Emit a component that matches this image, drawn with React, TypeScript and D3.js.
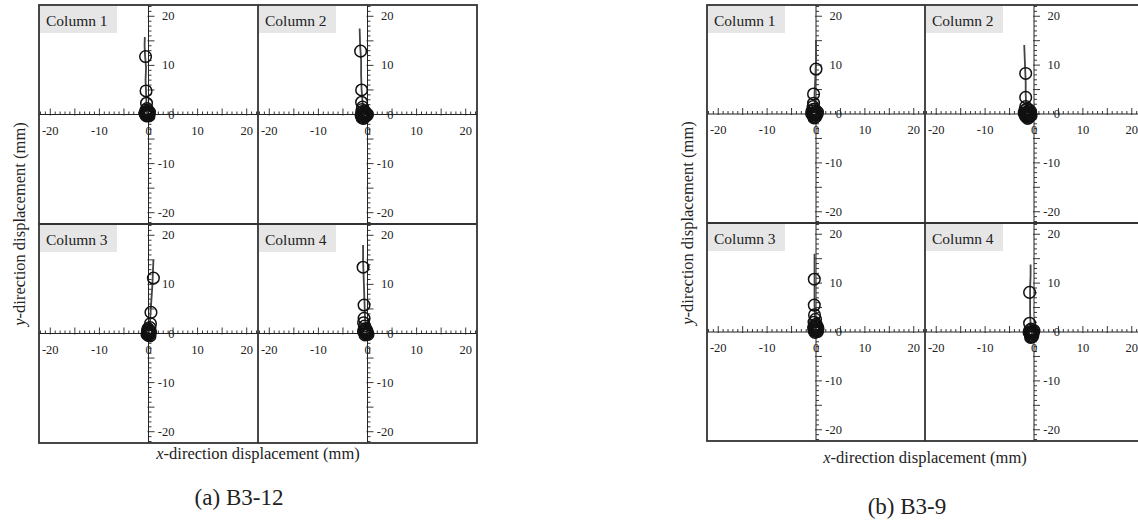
import React from 'react';
import * as d3 from 'd3';

type Pt = [number, number];

// tick values
const labelTicks = [-20, -10, 0, 10, 20];
const minorTicks = d3.range(-22, 23);

const columnNames = ['Column 1', 'Column 2', 'Column 3', 'Column 4'];

// B3-12 traces (x, y in mm)
const b312Col1Path: Pt[] = [[-0.2, -0.3], [-0.3, 0.5], [-0.4, 2], [-0.5, 4.5], [-0.6, 7], [-0.5, 9.5], [-0.7, 12], [-0.8, 14], [-0.75, 15.8]];
const b312Col1Peaks: Pt[] = [[-0.6, 11.8], [-0.5, 4.8], [-0.4, 2.3], [-0.3, 1.2], [-0.5, 0.9], [-0.2, 0.7], [-0.6, 0.5], [-0.1, 0.4], [-0.4, 0.3], [0.1, 0.2], [-0.3, 0.1], [-0.6, 0], [0, 0], [-0.2, -0.2], [-0.4, -0.3], [0.1, -0.3], [-0.7, 0.2], [0.2, 0.5], [-0.3, 0.6], [-0.1, -0.1]];

const b312Col2Path: Pt[] = [[-0.6, -0.8], [-0.8, 0.5], [-1.0, 2.5], [-1.2, 5], [-1.3, 8], [-1.3, 11], [-1.5, 14], [-1.6, 17.5]];
const b312Col2Peaks: Pt[] = [[-1.4, 12.9], [-1.2, 5.0], [-1.2, 2.5], [-1.0, 1.5], [-1.1, 1.0], [-0.8, 0.7], [-1.2, 0.4], [-0.6, 0.3], [-0.9, 0], [-0.4, 0], [-0.2, 0.1], [-1.0, -0.4], [-0.6, -0.5], [-0.8, -0.8], [0, 0], [-1.3, -0.2], [-0.5, 0.6], [-0.3, -0.3], [-1.1, -0.7]];

const b312Col3Path: Pt[] = [[0, -0.3], [0.1, 0.5], [0.3, 2], [0.4, 4], [0.6, 7], [0.8, 10], [0.9, 12.5], [1.0, 15]];
const b312Col3Peaks: Pt[] = [[1.0, 11.3], [0.5, 4.3], [0.4, 2.0], [0.3, 1.2], [0, 0.8], [0.2, 0.5], [-0.2, 0.3], [0.1, 0.1], [-0.1, -0.1], [0.2, -0.2], [0, -0.4], [-0.2, 0.6], [0.4, 0.3], [-0.3, -0.2], [0.3, -0.5], [-0.1, 1.0]];

const b312Col4Path: Pt[] = [[-0.1, 0], [-0.3, 1], [-0.5, 3], [-0.6, 6], [-0.7, 9], [-0.8, 12], [-0.9, 15], [-0.9, 18]];
const b312Col4Peaks: Pt[] = [[-0.9, 13.5], [-0.7, 5.8], [-0.7, 3.1], [-0.8, 2.2], [-0.6, 1.5], [-0.4, 1.0], [-0.7, 0.8], [-0.3, 0.5], [-0.5, 0.3], [-0.1, 0.1], [-0.4, 0], [0, 0.2], [-0.2, -0.1], [-0.8, 0.4], [0.1, -0.2], [-0.5, -0.3], [-0.2, 0.7]];

// B3-9 traces
const b39Col1Path: Pt[] = [[0, -0.5], [-0.1, 0.5], [-0.2, 2], [-0.3, 4], [-0.2, 6], [-0.1, 8.5], [0, 11], [0, 13], [0, 15]];
const b39Col1Peaks: Pt[] = [[0, 9.2], [-0.5, 4.1], [-0.5, 2.2], [-0.6, 1.5], [-0.3, 1.0], [-0.8, 0.6], [-0.2, 0.5], [-0.5, 0.2], [0.1, 0.2], [-0.7, -0.1], [-0.3, -0.2], [0.2, -0.1], [-0.5, -0.5], [-0.1, -0.6], [-0.9, 0.1], [0.3, 0.4], [-0.4, -0.8], [-0.6, 0.9]];

const b39Col2Path: Pt[] = [[-1.2, -0.5], [-1.4, 0.5], [-1.6, 2], [-1.7, 4], [-1.7, 6.5], [-1.8, 9], [-1.9, 11.5], [-2.0, 14.1]];
const b39Col2Peaks: Pt[] = [[-1.7, 8.3], [-1.7, 3.4], [-1.7, 1.5], [-1.5, 1.0], [-1.9, 0.7], [-1.2, 0.5], [-1.6, 0.3], [-1.0, 0.1], [-1.4, 0], [-0.8, -0.1], [-1.8, -0.2], [-1.2, -0.4], [-0.6, -0.3], [-1.5, -0.6], [-1.0, -0.7], [-2.0, 0.2], [-0.7, 0.4], [-1.3, -0.9], [-1.7, -0.5], [-0.9, 0.8]];

const b39Col3Path: Pt[] = [[0, -0.2], [-0.1, 1], [-0.2, 3], [-0.3, 5.5], [-0.3, 8], [-0.3, 11], [-0.3, 13.5], [-0.3, 16]];
const b39Col3Peaks: Pt[] = [[-0.35, 10.8], [-0.35, 5.5], [-0.3, 3.5], [-0.1, 2.6], [-0.4, 2.0], [0, 1.6], [-0.3, 1.2], [0.3, 1.0], [-0.2, 0.7], [0.2, 0.5], [-0.4, 0.3], [0, 0.2], [0.3, 0.1], [-0.5, 0.9], [0.4, 0.6], [-0.2, -0.1], [0.1, 1.3]];

const b39Col4Path: Pt[] = [[-0.3, -0.8], [-0.5, 0], [-0.7, 1.5], [-0.8, 4], [-0.8, 6.5], [-0.8, 9], [-0.7, 11.5], [-0.7, 13.8]];
const b39Col4Peaks: Pt[] = [[-0.9, 8.1], [-0.9, 1.8], [-0.6, 0.6], [-0.9, 0.3], [-0.3, 0.2], [-0.6, 0], [-0.2, -0.1], [-0.8, -0.3], [-0.4, -0.4], [-0.6, -0.7], [-0.3, -0.9], [-0.5, -1.0], [-1.0, -0.1], [0, 0.3], [-0.7, -1.1], [-0.2, -0.5]];

const panelsData = [
  {
    title: '(a) B3-12',
    paths: [b312Col1Path, b312Col2Path, b312Col3Path, b312Col4Path],
    peaks: [b312Col1Peaks, b312Col2Peaks, b312Col3Peaks, b312Col4Peaks],
  },
  {
    title: '(b) B3-9',
    paths: [b39Col1Path, b39Col2Path, b39Col3Path, b39Col4Path],
    peaks: [b39Col1Peaks, b39Col2Peaks, b39Col3Peaks, b39Col4Peaks],
  },
];

// layout
const TOP = 5;
const LIM = 22.3;
const layout = [
  { left: 39, cell: 219, yLabelX: 19, xLabelY: 459, titleX: 239, titleY: 505 },
  { left: 707, cell: 218, yLabelX: 687, xLabelY: 463, titleX: 907, titleY: 514 },
];

const FONT = '"Liberation Serif", "Times New Roman", Times, serif';
const INK = '#222';

function Cell({ left, top, size, name, path, peaks, id }: any) {
  const x = d3.scaleLinear().domain([-LIM, LIM]).range([left, left + size]);
  const y = d3.scaleLinear().domain([-LIM, LIM]).range([top + size, top]);
  const x0 = x(0);
  const y0 = y(0);
  const line = d3.line<Pt>().x(d => x(d[0])).y(d => y(d[1]));

  return (
    <g>
      <clipPath id={id}>
        <rect x={left} y={top} width={size} height={size} />
      </clipPath>
      <g clipPath={`url(#${id})`}>
        <rect x={left + 1} y={top + 1} width={77} height={27} fill="#e6e6e6" />
        <text x={left + 7} y={top + 21} fontFamily={FONT} fontSize={15.5} fill={INK}>{name}</text>

        {/* axes through origin */}
        <line x1={left} x2={left + size} y1={y0} y2={y0} stroke={INK} strokeWidth={1} />
        <line x1={x0} x2={x0} y1={top} y2={top + size} stroke={INK} strokeWidth={1} />
        {minorTicks.map(t => {
          const major = t % 5 === 0;
          return (
            <g key={'t' + t}>
              <line x1={x(t)} x2={x(t)} y1={y0 + (major ? 1 : 0)} y2={y0 - (major ? 6 : 3)} stroke={INK} strokeWidth={0.9} />
              <line x1={x0 - (major ? 1 : 0)} x2={x0 + (major ? 6 : 3)} y1={y(t)} y2={y(t)} stroke={INK} strokeWidth={0.9} />
            </g>
          );
        })}
        {labelTicks.map(t => (
          <text key={'xl' + t} x={x(t)} y={y0 + 20} textAnchor="middle" fontFamily={FONT} fontSize={12.5} fill={INK}>{t}</text>
        ))}
        {labelTicks.map(t => (
          <text key={'yl' + t} x={x0 + 26} y={y(t) + 4} textAnchor="end" fontFamily={FONT} fontSize={12.5} fill={INK}>{t}</text>
        ))}

        <path d={line(path) || ''} fill="none" stroke="#444" strokeWidth={1.8} />
        {peaks.map((p: Pt, i: number) => (
          <circle key={i} cx={x(p[0])} cy={y(p[1])} r={5.8} fill="none" stroke="#111" strokeWidth={1.5} />
        ))}
      </g>
    </g>
  );
}

export default function App() {
  return (
    <svg width={1138} height={520} style={{ display: 'block', position: 'absolute', left: 0, top: 0, background: '#fff' }}>
      <rect width={1138} height={520} fill="#fff" />
      {panelsData.map((pd, pi) => {
        const lay = layout[pi];
        const size = lay.cell;
        return (
          <g key={pi}>
            {[0, 1, 2, 3].map(ci => (
              <Cell
                key={ci}
                id={`clip-${pi}-${ci}`}
                left={lay.left + (ci % 2) * size}
                top={TOP + Math.floor(ci / 2) * size}
                size={size}
                name={columnNames[ci]}
                path={pd.paths[ci]}
                peaks={pd.peaks[ci]}
              />
            ))}
            {/* frame and dividers */}
            <rect x={lay.left} y={TOP} width={size * 2} height={size * 2} fill="none" stroke="#333" strokeWidth={1.8} />
            <line x1={lay.left + size} x2={lay.left + size} y1={TOP} y2={TOP + size * 2} stroke="#333" strokeWidth={1.8} />
            <line x1={lay.left} x2={lay.left + size * 2} y1={TOP + size} y2={TOP + size} stroke="#333" strokeWidth={1.8} />

            <text
              transform={`translate(${lay.yLabelX},${TOP + size}) rotate(-90)`}
              textAnchor="middle"
              dominantBaseline="central"
              fontFamily={FONT}
              fontSize={16.5}
              fill={INK}
            >
              <tspan fontStyle="italic">y</tspan>-direction displacement (mm)
            </text>
            <text x={lay.left + size} y={lay.xLabelY} textAnchor="middle" fontFamily={FONT} fontSize={16.5} fill={INK}>
              <tspan fontStyle="italic">x</tspan>-direction displacement (mm)
            </text>
            <text x={lay.titleX} y={lay.titleY} textAnchor="middle" fontFamily={FONT} fontSize={23} fill={INK}>{pd.title}</text>
          </g>
        );
      })}
    </svg>
  );
}
